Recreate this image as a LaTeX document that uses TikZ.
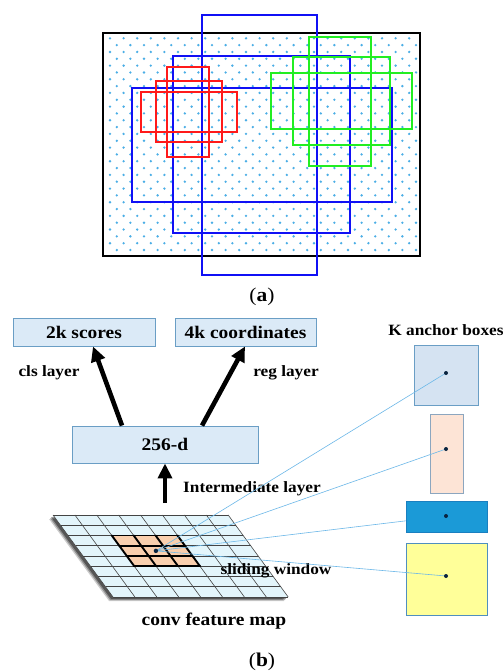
\documentclass[tikz,border=0pt]{standalone}
\usepackage{fontspec}
\setmainfont{Liberation Serif}[FakeStretch=1.1]
\usetikzlibrary{arrows.meta}

\definecolor{dotc}{HTML}{4AAEE6}
\definecolor{boxfill}{HTML}{DBEAF7}
\definecolor{boxline}{HTML}{6A9EC5}
\definecolor{cellfill}{HTML}{E3F5FB}
\definecolor{winfill}{HTML}{F9CFAE}
\definecolor{gridline}{HTML}{444444}
\definecolor{raycol}{HTML}{6CB8E8}
\definecolor{aOne}{HTML}{D5E3F2}
\definecolor{aTwo}{HTML}{FDE4D6}
\definecolor{aTwoLine}{HTML}{8CA6BF}
\definecolor{aThree}{HTML}{1B9AD7}
\definecolor{aThreeLine}{HTML}{1A7FC0}
\definecolor{aFour}{HTML}{FFFF99}
\definecolor{aFourLine}{HTML}{4F8FBF}
\definecolor{bluebox}{HTML}{1010F5}
\definecolor{redbox}{HTML}{FF1A1A}
\definecolor{greenbox}{HTML}{22EE22}
\definecolor{dotdark}{HTML}{0A2440}

\tikzset{
  layerbox/.style={draw=boxline, fill=boxfill, line width=0.9pt, inner sep=0pt,
    font=\fontsize{17.7}{20}\selectfont\bfseries},
  lbl/.style={inner sep=0pt, font=\fontsize{15.7}{18}\selectfont\bfseries},
  biglbl/.style={inner sep=0pt, font=\fontsize{17.7}{20}\selectfont\bfseries},
  caplbl/.style={inner sep=0pt, font=\fontsize{19.5}{23}\selectfont},
  bigarrow/.style={line width=4.6pt, -{Triangle[length=15pt,width=14pt]}},
  ray/.style={draw=raycol, line width=0.6pt},
  anchordot/.style={circle, fill=dotdark, inner sep=0pt, minimum size=4.4pt},
  propbox/.style={line width=1.6pt},
}

\begin{document}
\begin{tikzpicture}[x=1pt, y=-1pt]
\useasboundingbox (0,0) rectangle (503,672);
\fill[white] (0,0) rectangle (503,672);

% ---------- (a) image with anchor dots and proposals ----------
\foreach \r in {0,...,31} {
  \pgfmathsetmacro\yy{38.3+6.83*\r}
  \pgfmathsetmacro\xo{110+6.8*mod(\r,2)}
  \foreach \c in {0,...,22} {
    \fill[dotc] (\xo+13.6*\c,\yy) circle (1.3pt);
  }
}
\draw[line width=2pt, black] (103,33) rectangle (420,256);

\begin{scope}[propbox, draw=bluebox]
  \draw (202,15) rectangle (317,275);
  \draw (173,56) rectangle (350,233);
  \draw (132,88) rectangle (392,202);
\end{scope}
\begin{scope}[propbox, draw=redbox]
  \draw (167,67) rectangle (209,157);
  \draw (156,81) rectangle (222,142);
  \draw (141,92) rectangle (237,132);
\end{scope}
\begin{scope}[propbox, draw=greenbox]
  \draw (309,37) rectangle (371,166);
  \draw (293,57) rectangle (390,145);
  \draw (271,73) rectangle (412,129);
\end{scope}

\node[caplbl] (capa) at (262,297) {(\textbf{a})};

% ---------- (b) region proposal network ----------
\node[layerbox, minimum width=142pt, minimum height=28pt] (scores) at (84,332) {2k scores};
\node[layerbox, minimum width=141pt, minimum height=28pt] (coords) at (245.5,332) {4k coordinates};
\node[layerbox, minimum width=186pt, minimum height=37pt] (d256) at (165,444.5) {256-d};

\node[lbl] (cls) at (49,373) {cls layer};
\node[lbl] (reg) at (286,373) {reg layer};
\node[lbl] (kanchor) at (446,330) {K anchor boxes};
\node[lbl] (inter) at (252,489) {Intermediate layer};

\draw[bigarrow] ([xshift=-43pt]d256.north) -- ([xshift=9pt]scores.south);
\draw[bigarrow] ([xshift=37pt]d256.north) -- ([xshift=-0.5pt]coords.south);
\coordinate (upfoot) at (165,503);
\draw[bigarrow] (upfoot) -- (d256.south);

% feature map: sheared 8x8 grid
\begin{scope}[shift={(53,515)}, x={(21.9pt,0pt)}, y={(7.5pt,-10.25pt)}]
  \foreach \o/\op in {4/0.2, 3/0.3, 2/0.4} {
    \fill[black, opacity=\op] ([shift={(-\o pt,-\o pt)}]0,0) -- ([shift={(-\o pt,-\o pt)}]8,0)
      -- ([shift={(-\o pt,-\o pt)}]8,8) -- ([shift={(-\o pt,-\o pt)}]0,8) -- cycle;
  }
  \fill[cellfill] (0,0) -- (8,0) -- (8,8) -- (0,8) -- cycle;
  \fill[winfill] (2,2) -- (5,2) -- (5,5) -- (2,5) -- cycle;
  \foreach \i in {0,...,8} {
    \draw[gridline, line width=0.6pt] (\i,0) -- (\i,8);
    \draw[gridline, line width=0.6pt] (0,\i) -- (8,\i);
  }
  \foreach \i in {2,...,5} {
    \draw[black, line width=1.9pt, line cap=round] (\i,2) -- (\i,5);
    \draw[black, line width=1.9pt, line cap=round] (2,\i) -- (5,\i);
  }
  \coordinate (ctr) at (3.5,3.5);
\end{scope}

\node[lbl] (slide) at (276,571) {sliding window};
\node[biglbl] (fmap) at (214,621) {conv feature map};

% anchor boxes
\node[draw=boxline, fill=aOne, line width=1pt, minimum width=64pt, minimum height=60pt, inner sep=0pt] (a1) at (446,375) {};
\node[draw=aTwoLine, fill=aTwo, line width=1pt, minimum width=33pt, minimum height=79pt, inner sep=0pt] (a2) at (446.5,453.5) {};
\node[draw=aFourLine, fill=aFour, line width=1pt, minimum width=81pt, minimum height=72pt, inner sep=0pt] (a4) at (446.5,579) {};
\coordinate (d1) at (446,373);
\coordinate (d2) at (446,449);
\coordinate (d3) at (446,516);
\coordinate (d4) at (446,576);

% rays from the window centre to each anchor centre
\draw[ray] (ctr) -- (d1);
\draw[ray] (ctr) -- (d2);
\draw[ray] (ctr) -- (d3);
\draw[ray] (ctr) -- (d4);

\node[draw=aThreeLine, fill=aThree, line width=1pt, minimum width=81pt, minimum height=31pt, inner sep=0pt] (a3) at (446.5,516.5) {};

\node[anchordot] (c0) at (ctr) {};
\node[anchordot, minimum size=4pt] (c1) at (d1) {};
\node[anchordot, minimum size=4pt] (c2) at (d2) {};
\node[anchordot, minimum size=4pt] (c3) at (d3) {};
\node[anchordot, minimum size=4pt] (c4) at (d4) {};

\node[caplbl] (capb) at (262,662) {(\textbf{b})};
\end{tikzpicture}
\end{document}
